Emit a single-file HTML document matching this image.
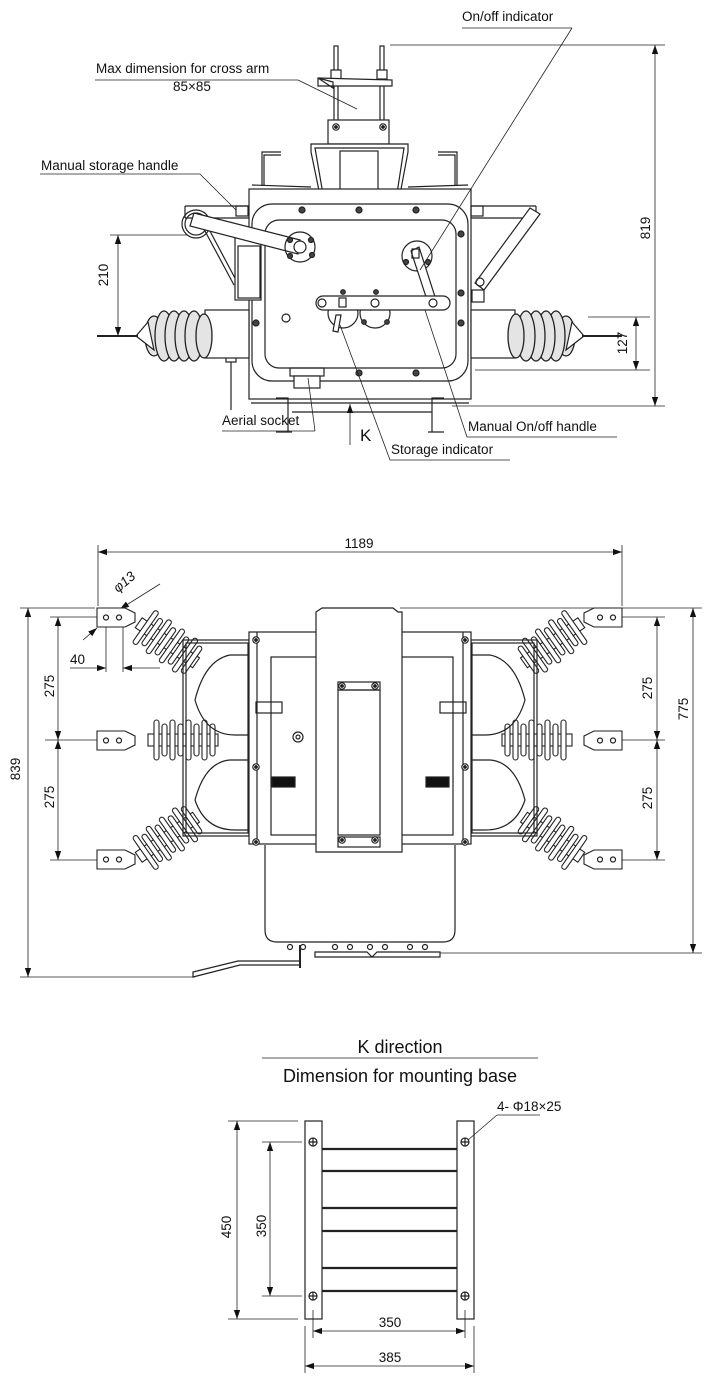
<!DOCTYPE html>
<html><head><meta charset="utf-8"><style>
html,body{margin:0;padding:0;background:#fff}
svg{display:block}
text{font-family:"Liberation Sans",Arial,sans-serif;fill:#111}
</style></head><body>
<svg width="710" height="1385" viewBox="0 0 710 1385" xmlns="http://www.w3.org/2000/svg">
<defs>
<marker id="ar" viewBox="0 0 10 10" refX="10" refY="5" markerWidth="9" markerHeight="9" orient="auto-start-reverse" markerUnits="userSpaceOnUse"><path d="M0,1.5 L10,5 L0,8.5 Z" fill="#111"/></marker>
<g id="ins">
<rect x="-4" y="-6" width="70" height="12" fill="#fff" stroke="#222" stroke-width="1.1"/>
<g fill="#fff" stroke="#222" stroke-width="1.1">
<rect x="2" y="-20" width="5" height="40" rx="2.5"/>
<rect x="10" y="-16" width="5" height="32" rx="2.5"/>
<rect x="18" y="-20" width="5" height="40" rx="2.5"/>
<rect x="26" y="-16" width="5" height="32" rx="2.5"/>
<rect x="34" y="-20" width="5" height="40" rx="2.5"/>
<rect x="42" y="-16" width="5" height="32" rx="2.5"/>
<rect x="50" y="-20" width="5" height="40" rx="2.5"/>
<rect x="58" y="-16" width="5" height="32" rx="2.5"/>
</g>
</g>
<g id="tins">
<g fill="#e4e4e4" stroke="#222" stroke-width="1.3">
<ellipse cx="6" cy="0" rx="9" ry="20"/>
<ellipse cx="16" cy="0" rx="9" ry="25"/>
<ellipse cx="26" cy="0" rx="9" ry="25"/>
<ellipse cx="36" cy="0" rx="9" ry="25"/>
<ellipse cx="46" cy="0" rx="9" ry="25"/>
<ellipse cx="56" cy="0" rx="8" ry="22"/>
</g>
</g>
<g id="term">
<path d="M0,0 H28 L38,5 V14 L28,19 H0 Z" fill="#fff" stroke="#222" stroke-width="1.1"/>
<circle cx="9" cy="9.5" r="2.5" fill="none" stroke="#222"/>
<circle cx="22" cy="9.5" r="2.5" fill="none" stroke="#222"/>
</g>
<g id="bolt"><circle r="3.2" fill="#fff" stroke="#222" stroke-width="1.2"/><circle r="1.3" fill="#222"/></g>
</defs>

<g stroke="#222" stroke-width="1.2" fill="none">
<!-- ============ TOP VIEW ============ -->
<rect x="334" y="46" width="4" height="26" fill="#fff"/><rect x="380" y="46" width="4" height="26" fill="#fff"/>
<rect x="331" y="70" width="10" height="9" fill="#fff"/><rect x="377" y="70" width="10" height="9" fill="#fff"/>
<path d="M318,78 L392,80 V86 L318,86 Z" fill="#fff"/>
<path d="M318,78 L333,88 V82 Z"/>
<line x1="334" y1="86" x2="334" y2="120"/><line x1="338" y1="86" x2="338" y2="120"/>
<line x1="380" y1="86" x2="380" y2="120"/><line x1="384" y1="86" x2="384" y2="120"/>
<rect x="328" y="120" width="61" height="24" fill="#fff"/>
<use href="#bolt" x="336" y="127"/><use href="#bolt" x="383" y="127"/>
<path d="M311,144 H408 V152 L398,205 H322 L311,152 Z" fill="#fff"/>
<path d="M315,148 H404 L396,200 H324 Z"/>
<rect x="340" y="151" width="38" height="50"/>
<circle cx="333" cy="196" r="3.5"/><circle cx="388" cy="196" r="3.5"/>
<path d="M262,186 V152 H281"/><path d="M264,186 V155 H281"/>
<path d="M457,186 V152 H438"/><path d="M455,186 V155 H438"/>
<line x1="252" y1="185" x2="311" y2="187"/><line x1="408" y1="187" x2="468" y2="185"/>
<rect x="249" y="189" width="222" height="210" fill="#fff"/>
<rect x="252" y="204" width="216" height="177" rx="20"/>
<rect x="265" y="220" width="191" height="148" rx="14"/>
<g fill="#444">
<circle cx="302" cy="210" r="3"/><circle cx="359" cy="210" r="3"/><circle cx="416" cy="210" r="3"/>
<circle cx="256" cy="323" r="3"/><circle cx="461" cy="323" r="3"/><circle cx="461" cy="234" r="3"/>
<circle cx="359" cy="373" r="3"/><circle cx="416" cy="373" r="3"/>
<circle cx="256" cy="243" r="3"/><circle cx="461" cy="293" r="3"/>
</g>
<circle cx="286" cy="318" r="4"/>
<path d="M185,206 H249 M185,218 H249 M185,206 V218"/>
<path d="M471,206 H536 M471,218 H536 M536,206 V218"/>
<rect x="236" y="206" width="12" height="10"/><rect x="471" y="206" width="12" height="10"/>
<line x1="198" y1="218" x2="234" y2="285"/><line x1="203" y1="218" x2="236" y2="280"/>
<path d="M530,208 L540,214 L484,290 L475,283 Z" fill="#fff"/>
<circle cx="480" cy="282" r="4"/>
<rect x="235" y="238" width="26" height="62" fill="#fff"/>
<rect x="238" y="246" width="22" height="52"/>
<circle cx="196" cy="224" r="14"/><circle cx="196" cy="224" r="11"/>
<path d="M194,213 L300,240 L298,254 L190,226 Z" fill="#fff"/>
<circle cx="300" cy="247" r="15"/><circle cx="300" cy="247" r="6" fill="#fff"/>
<g fill="#444"><circle cx="290" cy="240" r="2.5"/><circle cx="311" cy="240" r="2.5"/><circle cx="290" cy="256" r="2.5"/><circle cx="312" cy="255" r="2.5"/></g>
<circle cx="417" cy="256" r="15" fill="#fff"/>
<path d="M411,251 L419,247 L437,303 L429,306 Z" fill="#fff"/>
<rect x="412" y="249" width="7" height="9"/>
<g fill="#444"><circle cx="406" cy="262" r="2.5"/><circle cx="428" cy="262" r="2.5"/></g>
<circle cx="343" cy="313" r="15" fill="#fff"/><circle cx="375" cy="313" r="15" fill="#fff"/>
<rect x="316" y="296" width="134" height="14" rx="7" fill="#fff"/>
<circle cx="322" cy="303" r="4"/><circle cx="433" cy="303" r="4"/>
<rect x="339" y="298" width="7" height="9"/><circle cx="375" cy="303" r="4"/>
<path d="M336,315 L341,315 L338,332 L333,331 Z" fill="#fff"/>
<g fill="#444"><circle cx="343" cy="292" r="2.3"/><circle cx="376" cy="292" r="2.3"/><circle cx="364" cy="322" r="2.3"/><circle cx="387" cy="322" r="2.3"/></g>
<rect x="290" y="368" width="34" height="8"/><rect x="294" y="376" width="26" height="12" fill="#fff"/>
<rect x="472" y="290" width="12" height="12"/><rect x="472" y="340" width="12" height="14"/>
<rect x="236" y="340" width="12" height="14"/><rect x="226" y="350" width="10" height="12"/>
<line x1="231" y1="362" x2="231" y2="410"/>
<!-- insulators top -->
<rect x="205" y="310" width="44" height="48" fill="#fff"/>
<use href="#tins" transform="translate(148,336)"/>
<path d="M136,336 L148,322 L154,350 Z" fill="#fff"/>
<line x1="97" y1="336" x2="138" y2="336" stroke-width="2"/>
<rect x="471" y="310" width="44" height="48" fill="#fff"/>
<use href="#tins" transform="translate(572,336) scale(-1,1)"/>
<path d="M584,336 L572,322 L566,350 Z" fill="#fff"/>
<line x1="582" y1="336" x2="622" y2="336" stroke-width="2"/>
<line x1="251" y1="403" x2="469" y2="403"/>
<path d="M276,398 H288 V432 H292 M288,432 H276"/>
<path d="M444,398 H432 V432 H428 M432,432 H444"/>
<line x1="292" y1="412" x2="432" y2="412"/>

<g stroke-width="0.8">
<line x1="95" y1="80" x2="298" y2="80"/><line x1="298" y1="80" x2="357" y2="109"/>
<line x1="40" y1="174" x2="200" y2="174"/><line x1="200" y1="174" x2="236" y2="210"/>
<line x1="462" y1="28" x2="572" y2="28"/><line x1="572" y1="28" x2="420" y2="270"/>
<line x1="222" y1="431" x2="315" y2="431"/><line x1="315" y1="431" x2="308" y2="378"/>
<line x1="390" y1="460" x2="510" y2="460"/><line x1="390" y1="460" x2="340" y2="325"/>
<line x1="467" y1="437" x2="617" y2="437"/><line x1="467" y1="437" x2="425" y2="310"/>
<line x1="390" y1="45" x2="665" y2="45"/><line x1="452" y1="406" x2="665" y2="406"/>
<line x1="655" y1="45" x2="655" y2="406" marker-start="url(#ar)" marker-end="url(#ar)"/>
<line x1="110" y1="235" x2="188" y2="235"/>
<line x1="118" y1="235" x2="118" y2="336" marker-start="url(#ar)" marker-end="url(#ar)"/>
<line x1="475" y1="370" x2="650" y2="370"/><line x1="588" y1="317" x2="650" y2="317"/>
<line x1="636" y1="317" x2="636" y2="370" marker-start="url(#ar)" marker-end="url(#ar)"/>
<line x1="350" y1="445" x2="350" y2="404" marker-end="url(#ar)"/>
</g>

<!-- ============ MIDDLE VIEW ============ -->
<g stroke-width="0.8">
<line x1="98" y1="545" x2="98" y2="606"/><line x1="622" y1="545" x2="622" y2="606"/>
<line x1="98" y1="552" x2="622" y2="552" marker-start="url(#ar)" marker-end="url(#ar)"/>
<line x1="20" y1="608" x2="95" y2="608"/><line x1="20" y1="977" x2="195" y2="977"/>
<line x1="28" y1="608" x2="28" y2="977" marker-start="url(#ar)" marker-end="url(#ar)"/>
<line x1="50" y1="617" x2="97" y2="617"/><line x1="45" y1="740" x2="97" y2="740"/><line x1="50" y1="860" x2="97" y2="860"/>
<line x1="58" y1="617" x2="58" y2="740" marker-start="url(#ar)" marker-end="url(#ar)"/>
<line x1="58" y1="740" x2="58" y2="860" marker-start="url(#ar)" marker-end="url(#ar)"/>
<line x1="622" y1="617" x2="665" y2="617"/><line x1="622" y1="740" x2="665" y2="740"/><line x1="622" y1="860" x2="665" y2="860"/>
<line x1="657" y1="617" x2="657" y2="740" marker-start="url(#ar)" marker-end="url(#ar)"/>
<line x1="657" y1="740" x2="657" y2="860" marker-start="url(#ar)" marker-end="url(#ar)"/>
<line x1="400" y1="608" x2="702" y2="608"/><line x1="440" y1="953" x2="702" y2="953"/>
<line x1="693" y1="608" x2="693" y2="953" marker-start="url(#ar)" marker-end="url(#ar)"/>
<line x1="106" y1="620" x2="106" y2="672"/><line x1="123" y1="620" x2="123" y2="672"/>
<line x1="70" y1="668" x2="106" y2="668" marker-end="url(#ar)"/>
<line x1="160" y1="668" x2="123" y2="668" marker-end="url(#ar)"/>
<line x1="160" y1="584" x2="120" y2="609" marker-end="url(#ar)"/>
<line x1="83" y1="640" x2="97" y2="628" marker-end="url(#ar)"/>
</g>
<use href="#term" x="97" y="608"/><use href="#term" x="97" y="731"/><use href="#term" x="97" y="850"/>
<use href="#term" transform="translate(622,608) scale(-1,1)"/><use href="#term" transform="translate(622,731) scale(-1,1)"/><use href="#term" transform="translate(622,850) scale(-1,1)"/>
<use href="#ins" transform="translate(152,740)"/>
<use href="#ins" transform="translate(568,740) scale(-1,1)"/>
<use href="#ins" transform="translate(142,625) rotate(35)"/>
<use href="#ins" transform="translate(142,855) rotate(-35)"/>
<use href="#ins" transform="translate(578,625) rotate(145)"/>
<use href="#ins" transform="translate(578,855) rotate(-145)"/>
<rect x="183" y="640" width="66" height="196"/><rect x="186" y="643" width="62" height="190"/>
<rect x="471" y="640" width="66" height="196"/><rect x="472" y="643" width="62" height="190"/>
<path d="M249,655 H230 Q205,660 195,700 Q205,735 235,735 H249"/>
<path d="M249,760 H230 Q205,762 195,800 Q205,830 235,830 H249"/>
<path d="M471,655 H490 Q515,660 525,700 Q515,735 485,735 H471"/>
<path d="M471,760 H490 Q515,762 525,800 Q515,830 485,830 H471"/>
<rect x="249" y="632" width="222" height="212" fill="#fff"/>
<line x1="257" y1="632" x2="257" y2="844"/><line x1="463" y1="632" x2="463" y2="844"/>
<rect x="271" y="657" width="182" height="178"/>
<use href="#bolt" x="256" y="640"/><use href="#bolt" x="256" y="767"/><use href="#bolt" x="256" y="842"/>
<use href="#bolt" x="465" y="640"/><use href="#bolt" x="465" y="767"/><use href="#bolt" x="465" y="842"/>
<rect x="256" y="702" width="26" height="11"/><rect x="440" y="702" width="26" height="11"/>
<circle cx="298" cy="737" r="5"/><circle cx="298" cy="737" r="2"/>
<rect x="272" y="777" width="23" height="10" fill="#111"/><rect x="426" y="777" width="23" height="10" fill="#111"/>
<path d="M265,845 V930 Q265,942 277,942 H443 Q455,942 455,930 V845" fill="#fff"/>
<g fill="#fff"><circle cx="290" cy="947" r="2.5"/><circle cx="303" cy="947" r="2.5"/><circle cx="335" cy="947" r="2.5"/><circle cx="350" cy="947" r="2.5"/><circle cx="370" cy="947" r="2.5"/><circle cx="385" cy="947" r="2.5"/><circle cx="410" cy="947" r="2.5"/><circle cx="425" cy="947" r="2.5"/></g>
<path d="M315,952 H367 L372,957 L377,952 H440 V957 H315 Z"/>
<path d="M193,977 L240,965 H300 V961 H238 L193,972 Z" fill="#fff"/>
<line x1="300" y1="945" x2="300" y2="968" stroke-width="2"/>
<path d="M316,612 L322,608 H393 L398,612 H402 V852 H316 Z" fill="#fff"/>
<rect x="338" y="690" width="42" height="145"/>
<rect x="338" y="682" width="42" height="8"/><rect x="338" y="837" width="42" height="10"/>
<use href="#bolt" x="342" y="686"/><use href="#bolt" x="375" y="686"/>
<use href="#bolt" x="342" y="840"/><use href="#bolt" x="375" y="840"/>

<!-- ============ BOTTOM VIEW ============ -->
<line x1="262" y1="1058" x2="538" y2="1058" stroke-width="0.8"/>
<rect x="305" y="1121" width="17" height="198"/><rect x="457" y="1121" width="17" height="198"/>
<g stroke-width="2.2"><line x1="322" y1="1149" x2="457" y2="1149"/><line x1="322" y1="1171" x2="457" y2="1171"/><line x1="322" y1="1208" x2="457" y2="1208"/><line x1="322" y1="1231" x2="457" y2="1231"/><line x1="322" y1="1268" x2="457" y2="1268"/><line x1="322" y1="1291" x2="457" y2="1291"/></g>
<g><circle cx="313" cy="1142" r="4"/><circle cx="465" cy="1142" r="4"/><circle cx="313" cy="1296" r="4"/><circle cx="465" cy="1296" r="4"/>
<path d="M309,1142 H317 M313,1138 V1146 M461,1142 H469 M465,1138 V1146 M309,1296 H317 M313,1292 V1300 M461,1296 H469 M465,1292 V1300"/></g>
<g stroke-width="0.8">
<line x1="228" y1="1121" x2="298" y2="1121"/><line x1="228" y1="1319" x2="298" y2="1319"/>
<line x1="237" y1="1121" x2="237" y2="1319" marker-start="url(#ar)" marker-end="url(#ar)"/>
<line x1="262" y1="1142" x2="302" y2="1142"/><line x1="262" y1="1296" x2="302" y2="1296"/>
<line x1="270" y1="1142" x2="270" y2="1296" marker-start="url(#ar)" marker-end="url(#ar)"/>
<line x1="313" y1="1310" x2="313" y2="1338"/><line x1="465" y1="1310" x2="465" y2="1338"/>
<line x1="313" y1="1331" x2="465" y2="1331" marker-start="url(#ar)" marker-end="url(#ar)"/>
<line x1="305" y1="1326" x2="305" y2="1373"/><line x1="474" y1="1326" x2="474" y2="1373"/>
<line x1="305" y1="1366" x2="474" y2="1366" marker-start="url(#ar)" marker-end="url(#ar)"/>
<line x1="497" y1="1115" x2="540" y2="1115"/><line x1="497" y1="1115" x2="468" y2="1140"/>
</g>
</g>

<g font-size="13.5">
<text x="462" y="21">On/off indicator</text>
<text x="96" y="73">Max dimension for cross arm</text>
<text x="173" y="91">85×85</text>
<text x="41" y="170">Manual storage handle</text>
<text x="222" y="425">Aerial socket</text>
<text x="468" y="431">Manual On/off handle</text>
<text x="391" y="454">Storage indicator</text>
<text x="360" y="441" font-size="17">K</text>
<text transform="translate(650,228) rotate(-90)" text-anchor="middle">819</text>
<text transform="translate(108,275) rotate(-90)" text-anchor="middle">210</text>
<text transform="translate(627,343) rotate(-90)" text-anchor="middle">127</text>
<text x="359" y="548" text-anchor="middle">1189</text>
<text transform="translate(118,593) rotate(-40)" font-style="italic">φ13</text>
<text x="70" y="664">40</text>
<text transform="translate(54,686) rotate(-90)" text-anchor="middle">275</text>
<text transform="translate(54,797) rotate(-90)" text-anchor="middle">275</text>
<text transform="translate(20,769) rotate(-90)" text-anchor="middle">839</text>
<text transform="translate(652,688) rotate(-90)" text-anchor="middle">275</text>
<text transform="translate(652,798) rotate(-90)" text-anchor="middle">275</text>
<text transform="translate(688,709) rotate(-90)" text-anchor="middle">775</text>
<text x="400" y="1053" text-anchor="middle" font-size="18">K direction</text>
<text x="400" y="1082" text-anchor="middle" font-size="18">Dimension for mounting base</text>
<text x="497" y="1111">4-  Φ18×25</text>
<text transform="translate(231,1227) rotate(-90)" text-anchor="middle">450</text>
<text transform="translate(266,1226) rotate(-90)" text-anchor="middle">350</text>
<text x="390" y="1327" text-anchor="middle">350</text>
<text x="390" y="1362" text-anchor="middle">385</text>
</g>
</svg>
</body></html>
